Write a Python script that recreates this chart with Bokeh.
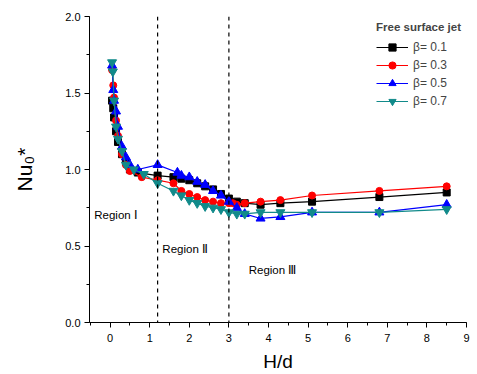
from bokeh.plotting import figure
from bokeh.models import Span, Legend, LegendItem, Range1d, Label, FixedTicker, CustomJSTickFormatter
from bokeh.embed import file_html
from bokeh.resources import INLINE

# ---- data ----
x_b01 = [0.05, 0.08, 0.1, 0.15, 0.2, 0.3, 0.4, 0.5, 0.7, 1.2, 1.6, 1.8, 2.0, 2.2, 2.4, 2.6, 2.8, 3.0, 3.2, 3.4, 3.8, 4.3, 5.1, 6.8, 8.5]
y_b01 = [1.45, 1.40, 1.34, 1.25, 1.18, 1.10, 1.05, 1.00, 0.98, 0.96, 0.95, 0.94, 0.93, 0.91, 0.89, 0.87, 0.84, 0.81, 0.79, 0.78, 0.77, 0.78, 0.79, 0.82, 0.85]

x_b03 = [0.05, 0.08, 0.1, 0.15, 0.2, 0.3, 0.4, 0.5, 0.8, 1.2, 1.6, 1.8, 2.0, 2.2, 2.4, 2.6, 2.8, 3.0, 3.1, 3.2, 3.4, 3.8, 4.3, 5.1, 6.8, 8.5]
y_b03 = [1.65, 1.55, 1.47, 1.32, 1.22, 1.10, 1.03, 0.99, 0.95, 0.93, 0.91, 0.86, 0.84, 0.82, 0.80, 0.79, 0.78, 0.78, 0.78, 0.77, 0.78, 0.79, 0.80, 0.83, 0.86, 0.89]

x_b05 = [0.05, 0.08, 0.1, 0.15, 0.2, 0.3, 0.4, 0.5, 0.7, 1.2, 1.7, 1.8, 2.0, 2.2, 2.4, 2.6, 2.8, 3.0, 3.2, 3.4, 3.8, 4.3, 5.1, 6.8, 8.5]
y_b05 = [1.68, 1.52, 1.45, 1.38, 1.28, 1.15, 1.08, 1.03, 1.00, 1.03, 0.98, 0.96, 0.95, 0.92, 0.90, 0.86, 0.83, 0.79, 0.75, 0.71, 0.68, 0.69, 0.72, 0.72, 0.77]

x_b07 = [0.05, 0.07, 0.1, 0.15, 0.2, 0.3, 0.4, 0.6, 0.85, 1.2, 1.6, 1.8, 2.0, 2.2, 2.4, 2.6, 2.8, 3.0, 3.2, 3.4, 3.8, 4.3, 5.1, 6.8, 8.5]
y_b07 = [1.70, 1.64, 1.45, 1.28, 1.20, 1.12, 1.03, 1.00, 0.97, 0.91, 0.86, 0.83, 0.80, 0.78, 0.76, 0.75, 0.74, 0.72, 0.71, 0.71, 0.72, 0.72, 0.72, 0.72, 0.74]

series_labels = ["β= 0.1", "β= 0.3", "β= 0.5", "β= 0.7"]
x_ticks = [0, 1, 2, 3, 4, 5, 6, 7, 8, 9]
y_ticks = [0.0, 0.5, 1.0, 1.5, 2.0]
region_lines = [1.2, 3.0]
region_texts = ["Region Ⅰ", "Region Ⅱ", "Region Ⅲ"]
region_pos = [(-0.4, 0.70), (1.32, 0.48), (3.5, 0.34)]

FONT = "Liberation Sans"

p = figure(width=477, height=374, output_backend="svg", toolbar_location=None,
           x_range=Range1d(-0.52, 9.0), y_range=Range1d(0, 2.0),
           min_border_left=89, min_border_top=16, min_border_right=11, min_border_bottom=52)
p.outline_line_color = None
p.xgrid.visible = False
p.ygrid.visible = False
p.background_fill_color = "white"

for ax in (p.xaxis[0], p.yaxis[0]):
    ax.axis_line_color = "black"
    ax.major_tick_line_color = "black"
    ax.minor_tick_line_color = "black"
    ax.major_tick_out = 5
    ax.major_tick_in = 0
    ax.minor_tick_out = 3
    ax.minor_tick_in = 0
    ax.major_label_text_font = FONT
    ax.major_label_text_font_size = "11px"
    ax.major_label_text_color = "black"
    ax.axis_label_text_font = FONT
    ax.axis_label_text_font_size = "19px"
    ax.axis_label_text_font_style = "normal"
    ax.axis_label_text_color = "black"

p.xaxis[0].ticker = FixedTicker(ticks=x_ticks, minor_ticks=[i * 0.5 for i in range(-1, 19)])
p.yaxis[0].ticker = FixedTicker(ticks=y_ticks, minor_ticks=[i * 0.25 for i in range(0, 9)])
p.yaxis[0].formatter = CustomJSTickFormatter(code="return tick.toFixed(1);")
p.xaxis.axis_label = "H/d"
p.yaxis.axis_label = "Nu₀*"
p.yaxis.axis_label_text_font_size = "21px"
p.xaxis.major_label_standoff = 6
p.yaxis.major_label_standoff = 4
p.xaxis.axis_label_standoff = 6
p.yaxis.axis_label_standoff = 26

for xl in region_lines:
    p.add_layout(Span(location=xl, dimension="height", line_color="black",
                      line_dash="4 4", line_width=1.2))

for t, (xx, yy) in zip(region_texts, region_pos):
    p.add_layout(Label(x=xx, y=yy, text=t, text_font=FONT, text_font_size="11.5px",
                       text_color="black", text_baseline="middle"))

colors = ["black", "red", "blue", "#118a8a"]
markers = ["square", "circle", "triangle", "inverted_triangle"]
sizes = [7, 7, 9, 9]
data = [(x_b01, y_b01), (x_b03, y_b03), (x_b05, y_b05), (x_b07, y_b07)]
items = []
for (xs, ys), c, m, s, lab in zip(data, colors, markers, sizes, series_labels):
    ln = p.line(xs, ys, line_color=c, line_width=1.2)
    sc = p.scatter(xs, ys, marker=m, size=s, fill_color=c, line_color=c)
    items.append(LegendItem(label=lab, renderers=[ln, sc]))

legend = Legend(items=items, location=(287, 212), title="Free surface jet",
                title_text_font=FONT, title_text_font_size="11.5px", title_text_font_style="bold",
                label_text_font=FONT, label_text_font_size="12px",
                glyph_width=32, glyph_height=18, label_height=18, spacing=0,
                padding=2, margin=0, label_standoff=5, title_standoff=5,
                border_line_color=None, background_fill_alpha=0)
p.add_layout(legend, "center")

open("out.html", "w").write(file_html(p, INLINE))
